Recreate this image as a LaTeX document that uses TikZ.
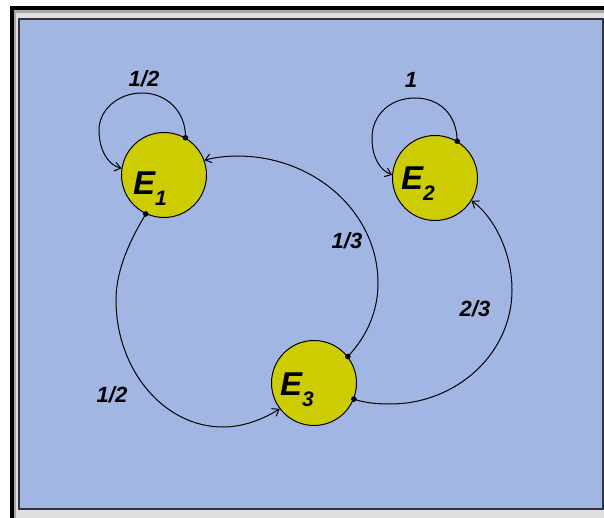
\documentclass[tikz,border=0pt]{standalone}
\usepackage{fontspec}
\setmainfont{Liberation Sans}
\usetikzlibrary{arrows.meta}
\definecolor{bgblue}{RGB}{162,182,228}
\definecolor{nodeyel}{RGB}{204,204,0}
\definecolor{bevelgray}{RGB}{168,168,168}
\definecolor{bevellight}{RGB}{222,222,222}
\definecolor{beveldark}{RGB}{48,52,64}
\begin{document}
\begin{tikzpicture}[x=1pt,y=-1pt,
  state/.style={circle,draw=black,fill=nodeyel,minimum size=85pt,inner sep=0pt,line width=1pt},
  elabel/.style={anchor=base west,inner sep=0pt,font=\bfseries\itshape\fontsize{33}{33}\selectfont},
  plabel/.style={inner sep=0pt,font=\bfseries\itshape\fontsize{22}{22}\selectfont},
  edge/.style={line width=1pt,-{Straight Barb[length=6pt,width=9pt]}},
]
\useasboundingbox (0,0) rectangle (604,518);
% frame
\fill[white] (0,0) rectangle (604,518);
\fill[black] (10,6) rectangle (604,518);
\fill[bevelgray] (14,10) rectangle (604,518);
\fill[bevellight] (16,13) rectangle (604,518);
\fill[beveldark] (18,18) rectangle (604,510);
\fill[bgblue] (20,20) rectangle (602,508);

% states
\node[state] (E1) at (164,175) {};
\node[state] (E2) at (435,178) {};
\node[state] (E3) at (314,383) {};
\newcommand{\subnum}[1]{\raisebox{-11pt}{\fontsize{21}{21}\selectfont #1}}
\node[elabel] (E1t) at (133,195) {E\subnum{1}};
\node[elabel] (E2t) at (401,190) {E\subnum{2}};
\node[elabel] (E3t) at (280,395) {E\subnum{3}};

% self loop E1
\draw[edge] (E1.60) .. controls (186,112) and (167,93) .. (142,93)
  .. controls (118,93) and (99,110) .. (99,130)
  .. controls (99,150) and (108,165) .. (E1.171);
\fill (E1.60) circle (2.8pt);
% self loop E2
\draw[edge] (E2.59) .. controls (457,115) and (440,98) .. (415,98)
  .. controls (390,98) and (372,115) .. (372,138)
  .. controls (372,158) and (380,170) .. (E2.176);
\fill (E2.59) circle (2.8pt);
% E1 -> E3
\draw[edge] (E1.245) .. controls (130,240) and (116,270) .. (116,300)
  .. controls (116,370) and (164,427) .. (223,427)
  .. controls (245,427) and (265,418) .. (E3.217);
\fill (E1.245) circle (2.8pt);
% E3 -> E1
\draw[edge] (E3.38) .. controls (368,335) and (378,310) .. (378,283)
  .. controls (378,213) and (315,156) .. (237,156)
  .. controls (225,156) and (212,158) .. (E1.20);
\fill (E3.38) circle (2.8pt);
% E3 -> E2
\draw[edge] (E3.-22) .. controls (365,403) and (378,404) .. (390,404)
  .. controls (457,404) and (512,353) .. (512,290)
  .. controls (512,250) and (492,215) .. (E2.-32);
\fill (E3.-22) circle (2.8pt);

% labels
\node[plabel] (l11) at (144,79) {1/2};
\node[plabel] (l22) at (411,80) {1};
\node[plabel] (l13) at (112,395) {1/2};
\node[plabel] (l31) at (347,241) {1/3};
\node[plabel] (l32) at (475,309) {2/3};
\end{tikzpicture}
\end{document}
